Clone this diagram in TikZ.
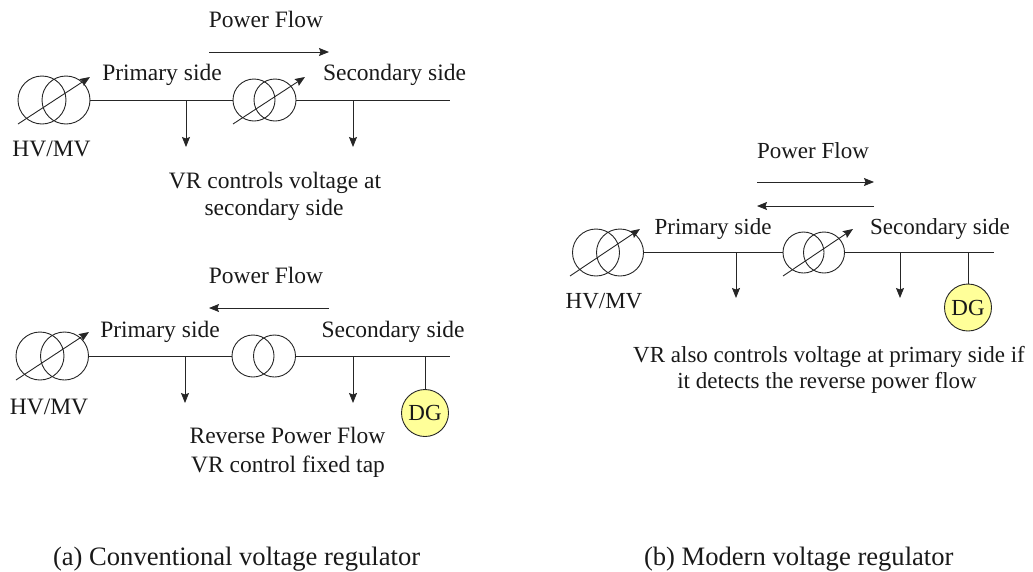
\documentclass[tikz,border=0pt]{standalone}
\usepackage{fontspec}
\setmainfont{Liberation Serif}
\usetikzlibrary{arrows.meta}
\definecolor{dgfill}{HTML}{FFFF99}
\tikzset{
  x=1pt,y=-1pt,
  wire/.style={line width=0.9pt,draw=black!85},
  flow/.style={wire,-{Stealth[length=10pt,width=8pt,inset=1.5pt]}},
  txt/.style={anchor=base,inner sep=0pt,outer sep=0pt,font=\fontsize{23.5}{27}\selectfont,text=black!90},
  txtb/.style={txt,font=\fontsize{23}{27}\selectfont},
  captxt/.style={txt,anchor=base west,font=\fontsize{26.6}{30}\selectfont},
  coil/.style={circle,draw=black!85,line width=0.9pt,inner sep=0pt,outer sep=0pt},
  bigcoil/.style={coil,minimum size=48pt},
  smallcoil/.style={coil,minimum size=42pt},
  dg/.style={coil,minimum size=47pt,fill=dgfill,font=\fontsize{23}{27}\selectfont,text=black!90},
}
\begin{document}
\begin{tikzpicture}
\useasboundingbox (0,0) rectangle (1033,571);
% ---- panel a, top
\node[bigcoil] (a1) at (42,100) {};
\node[bigcoil] (a2) at (66,100) {};
\node[smallcoil] (a3) at (254,100) {};
\node[smallcoil] (a4) at (275,100) {};
\coordinate (a1s) at (18,124); \coordinate (a1e) at (90,77);
\coordinate (a3s) at (233,124); \coordinate (a3e) at (305,77);
\coordinate (aend) at (450,100);
\coordinate (al1) at (186,100); \coordinate (al1e) at (186,147);
\coordinate (al2) at (353,100); \coordinate (al2e) at (353,147);
\coordinate (afs) at (209,52); \coordinate (afe) at (329,52);
\draw[flow] (a1s) -- (a1e);
\draw[flow] (a3s) -- (a3e);
\draw[wire] (a2.east) -- (a3.west);
\draw[wire] (a4.east) -- (aend);
\draw[flow] (al1) -- (al1e);
\draw[flow] (al2) -- (al2e);
\draw[flow] (afs) -- (afe);
\node[txt] (t1) at (266,27) {Power Flow};
\node[txt] (t2) at (162,80) {Primary side};
\node[txt] (t3) at (394.5,80) {Secondary side};
\node[txt] (t4) at (51.5,156) {HV/MV};
\node[txt] (t5) at (275,188) {VR controls voltage at};
\node[txt] (t6) at (274,215) {secondary side};
% ---- panel a, bottom
\node[bigcoil] (b1) at (40,356) {};
\node[bigcoil] (b2) at (64.5,356) {};
\node[smallcoil] (b3) at (253,356) {};
\node[smallcoil] (b4) at (274.5,356) {};
\coordinate (b1s) at (16,380); \coordinate (b1e) at (89,332);
\coordinate (bend) at (450,356);
\coordinate (bl1) at (185,356); \coordinate (bl1e) at (185,403);
\coordinate (bl2) at (353,356); \coordinate (bl2e) at (353,403);
\coordinate (bds) at (425,356);
\coordinate (bfs) at (329,308); \coordinate (bfe) at (209,308);
\node[dg] (bdg) at (425,413) {DG};
\draw[flow] (b1s) -- (b1e);
\draw[wire] (b2.east) -- (b3.west);
\draw[wire] (b4.east) -- (bend);
\draw[flow] (bl1) -- (bl1e);
\draw[flow] (bl2) -- (bl2e);
\draw[wire] (bds) -- (bdg.north);
\draw[flow] (bfs) -- (bfe);
\node[txt] (u1) at (266,283) {Power Flow};
\node[txt] (u2) at (160,337) {Primary side};
\node[txt] (u3) at (393,337) {Secondary side};
\node[txt] (u4) at (49,414) {HV/MV};
\node[txt] (u5) at (287.5,443) {Reverse Power Flow};
\node[txt] (u6) at (288,472) {VR control fixed tap};
% ---- panel b
\node[coil,minimum size=47pt] (c1) at (596,252.5) {};
\node[coil,minimum size=47pt] (c2) at (620,252.5) {};
\node[coil,minimum size=41pt] (c3) at (803.5,252.5) {};
\node[coil,minimum size=41pt] (c4) at (824,252.5) {};
\coordinate (c1s) at (570,276); \coordinate (c1e) at (640,229);
\coordinate (c3s) at (783,276); \coordinate (c3e) at (853,229);
\coordinate (cend) at (994,252.5);
\coordinate (cl1) at (736,252.5); \coordinate (cl1e) at (736,298);
\coordinate (cl2) at (900,252.5); \coordinate (cl2e) at (900,298);
\coordinate (cds) at (968,252.5);
\coordinate (cfs) at (757,182); \coordinate (cfe) at (874,182);
\coordinate (crs) at (874,206); \coordinate (cre) at (757,206);
\node[dg] (cdg) at (968,307.5) {DG};
\draw[flow] (c1s) -- (c1e);
\draw[flow] (c3s) -- (c3e);
\draw[wire] (c2.east) -- (c3.west);
\draw[wire] (c4.east) -- (cend);
\draw[flow] (cl1) -- (cl1e);
\draw[flow] (cl2) -- (cl2e);
\draw[wire] (cds) -- (cdg.north);
\draw[flow] (cfs) -- (cfe);
\draw[flow] (crs) -- (cre);
\node[txtb] (v1) at (813,158) {Power Flow};
\node[txtb] (v2) at (713,234) {Primary side};
\node[txtb] (v3) at (940,234) {Secondary side};
\node[txtb] (v4) at (604,308) {HV/MV};
\node[txtb] (v5) at (829,362) {VR also controls voltage at primary side if};
\node[txtb] (v6) at (827,388) {it detects the reverse power flow};
% ---- captions
\node[captxt] (capa) at (53,565.5) {(a) Conventional voltage regulator};
\node[captxt] (capb) at (644,565.5) {(b) Modern voltage regulator};
\end{tikzpicture}
\end{document}
